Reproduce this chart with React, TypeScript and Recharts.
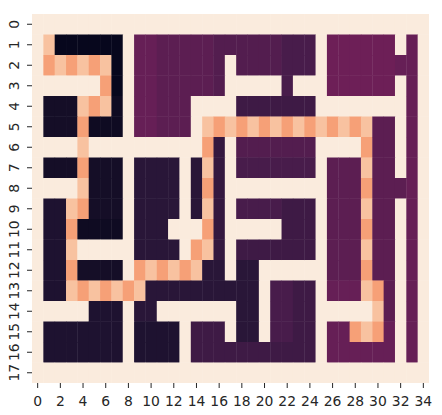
import { ScatterChart, Scatter, XAxis, YAxis } from 'recharts'

// maze grid, one string per row, one char per column
// '.' open, 'P'/'O' path (alternating), digits/m/n wall shades
const mazeRows = [
  '...................................',
  '.P000000.mm99999888888777.nnnnnn.m.',
  '.OPOPOP0.mm999998.8888777.nnnnnnmm.',
  '......O0.mm999998.....7...nnnnnn.m.',
  '.222POP1.mm999....6666666........m.',
  '.222O111.mm999.POPOPOPOPOPOPOP99.m.',
  '....P..........O5.8888888....O99.m.',
  '.222O222.4444.4P5.7777777.999P99.m.',
  '....P222.4444.4O5.........999O999m.',
  '.33PO222.4444.4P5.7777666.999P99.m.',
  '.33O1111.444...O5.....666.999O99.m.',
  '.33P.....4444.OP5.6666666.999P99.m.',
  '.33O2222.OPOPOP44.44......999O99.m.',
  '.33POPOPOP4444444444.7766.mmmPO9.m.',
  '.....333.44.......44.7766.....P9.m.',
  '.3333333.3333.666.44.7766.mmOPOm.m.',
  '.3333333.3333.66666666666.mmmmmm.m.',
  '...................................',
]

const palette: Record<string, string> = {
  '.': '#faebdd',
  P: '#f8c2a0',
  O: '#f6a077',
  '0': '#07071d',
  '1': '#0f0b22',
  '2': '#150e27',
  '3': '#1e1230',
  '4': '#291638',
  '5': '#34183f',
  '6': '#3e1a45',
  '7': '#481c4b',
  '8': '#531d4f',
  '9': '#5c1e52',
  m: '#661f56',
  n: '#6d1f57',
}

const xTicks = [0, 2, 4, 6, 8, 10, 12, 14, 16, 18, 20, 22, 24, 26, 28, 30, 32, 34]
const yTicks = [0, 1, 2, 3, 4, 5, 6, 7, 8, 9, 10, 11, 12, 13, 14, 15, 16, 17]

const cells = mazeRows.flatMap((line, row) =>
  line.split('').map((code, col) => ({ col, row, code }))
)

const W = 442
const H = 415
const margin = { top: 14, right: 13, left: 0, bottom: 0 }
const Y_AXIS_W = 32
const X_AXIS_H = 32
const nCols = mazeRows[0].length
const nRows = mazeRows.length
const cellW = (W - margin.left - margin.right - Y_AXIS_W) / nCols
const cellH = (H - margin.top - margin.bottom - X_AXIS_H) / nRows

const Cell = (props: any) => (
  <rect
    x={props.cx - cellW / 2}
    y={props.cy - cellH / 2}
    width={cellW + 0.4}
    height={cellH + 0.4}
    fill={palette[props.payload.code]}
  />
)

const YTick = ({ y, payload }: any) => (
  <text
    x={18.5}
    y={y}
    transform={`rotate(-90, 18.5, ${y})`}
    textAnchor="middle"
    fontSize={13.9}
    fontFamily="DejaVu Sans"
    fill="#262626"
  >
    {payload.value}
  </text>
)

export default function App() {
  return (
    <div style={{ position: 'absolute', left: 0, top: 0, background: '#fff' }}>
      <ScatterChart width={W} height={H} margin={margin}>
        <XAxis
          type="number"
          dataKey="col"
          domain={[-0.5, nCols - 0.5]}
          ticks={xTicks}
          interval={0}
          height={X_AXIS_H}
          axisLine={false}
          tickLine={{ stroke: '#262626' }}
          tickSize={5}
          tickMargin={8}
          tick={{ fontSize: 13.9, fontFamily: 'DejaVu Sans', fill: '#262626' }}
          allowDataOverflow
        />
        <YAxis
          type="number"
          dataKey="row"
          domain={[-0.5, nRows - 0.5]}
          reversed
          ticks={yTicks}
          interval={0}
          width={Y_AXIS_W}
          axisLine={false}
          tickLine={{ stroke: '#262626' }}
          tickSize={5}
          tick={<YTick />}
          allowDataOverflow
        />
        <Scatter data={cells} shape={<Cell />} isAnimationActive={false} />
      </ScatterChart>
    </div>
  )
}
